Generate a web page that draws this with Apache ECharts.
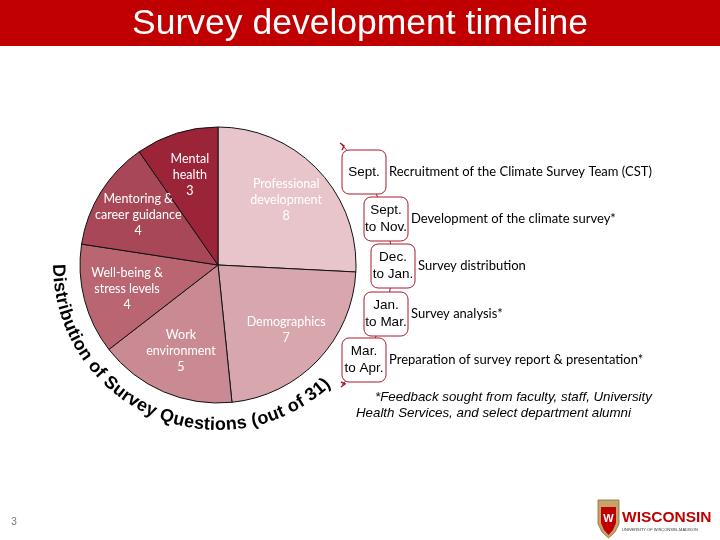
<!DOCTYPE html>
<html>
<head>
<meta charset="utf-8">
<script src="https://cdn.jsdelivr.net/npm/echarts@6/dist/echarts.min.js"></script>
<style>
  html, body { margin: 0; padding: 0; background: #fff; }
  #chart-container { width: 720px; height: 540px; }
</style>
</head>
<body>
<div id="chart-container"></div>
<script>
// --- data ---
const categories = ['Professional\ndevelopment', 'Demographics', 'Work\nenvironment', 'Well-being &\nstress levels', 'Mentoring &\ncareer guidance', 'Mental\nhealth'];
const questionCounts = [8, 7, 5, 4, 4, 3];
const sliceColors = ['#e8c5ca', '#d8a6ad', '#c98a93', '#b96672', '#a84758', '#9b2438'];

const periods = ['Sept.', 'Sept.\nto Nov.', 'Dec.\nto Jan.', 'Jan.\nto Mar.', 'Mar.\nto Apr.'];
const steps = [
    'Recruitment of the Climate Survey Team (CST)',
    'Development of the climate survey*',
    'Survey distribution',
    'Survey analysis*',
    'Preparation of survey report & presentation*'
];

const titleText = 'Survey development timeline';
const arcTitle = 'Distribution of Survey Questions (out of 31)';
const footnote = '*Feedback sought from faculty, staff, University\nHealth Services, and select department alumni';

var myChart = echarts.init(document.getElementById('chart-container'));

const pieCenter = [218, 265];
const pieRadius = 138;
const red = '#c00000';
const boxRed = '#a8182c';

let graphics = [];

// title bar
graphics.push({ type: 'rect', shape: { x: 0, y: 0, width: 720, height: 46 }, style: { fill: red }, z: 1 });
graphics.push({
    type: 'text', x: 360, y: 24, z: 2,
    style: { text: titleText, fill: '#fff', font: '35.5px "Liberation Sans", Arial, sans-serif', align: 'center', verticalAlign: 'middle' }
});

// curved label around the pie
(function () {
    const font = 'bold 18px "Liberation Sans", Arial, sans-serif';
    const ctx = document.createElement('canvas').getContext('2d');
    ctx.font = font;
    const chars = arcTitle.split('');
    const widths = chars.map(c => ctx.measureText(c).width);
    const total = widths.reduce((a, b) => a + b, 0);
    const r = 160;
    const mid = 113.5 * Math.PI / 180;
    const start = mid + total / (2 * r);
    let acc = 0;
    chars.forEach((c, i) => {
        const th = start - (acc + widths[i] / 2) / r;
        acc += widths[i];
        graphics.push({
            type: 'text',
            x: pieCenter[0] + r * Math.cos(th),
            y: pieCenter[1] + r * Math.sin(th),
            rotation: Math.PI / 2 - th,
            style: { text: c, font: font, fill: '#000', align: 'center', verticalAlign: 'middle' }
        });
    });
})();

// timeline connector arc
graphics.push({
    type: 'arc', z: 1,
    shape: { cx: 223, cy: 265, r: 169, startAngle: -0.79, endAngle: 0.79, clockwise: true },
    style: { stroke: boxRed, lineWidth: 1, fill: null }
});
graphics.push({ type: 'polyline', z: 1, shape: { points: [[340, 143], [344, 146], [342, 150]] }, style: { stroke: boxRed, lineWidth: 1.5, fill: null } });
graphics.push({ type: 'polyline', z: 1, shape: { points: [[341, 382], [345, 384], [341, 387]] }, style: { stroke: boxRed, lineWidth: 1.5, fill: null } });

// timeline boxes
const boxX = [342, 364, 371, 364, 342];
const boxY = [150, 197, 244, 292, 338];
periods.forEach((p, i) => {
    graphics.push({
        type: 'rect', z: 3,
        shape: { x: boxX[i], y: boxY[i], width: 44, height: 44, r: 7 },
        style: { fill: '#fff', stroke: boxRed, lineWidth: 1 }
    });
    graphics.push({
        type: 'text', z: 4, x: boxX[i] + 22, y: boxY[i] + 22,
        style: { text: p, font: '13.5px "Liberation Sans", Arial, sans-serif', lineHeight: 17, fill: '#000', align: 'center', verticalAlign: 'middle' }
    });
    graphics.push({
        type: 'text', z: 4, x: boxX[i] + 47, y: boxY[i] + 22,
        style: { text: steps[i], font: '13px Lato, sans-serif', fill: '#000', align: 'left', verticalAlign: 'middle' }
    });
});

// footnote
graphics.push({
    type: 'text', x: 375, y: 397,
    style: { text: footnote.split('\n')[0], font: 'italic 13.3px "Liberation Sans", Arial, sans-serif', fill: '#000', verticalAlign: 'middle' }
});
graphics.push({
    type: 'text', x: 356, y: 413,
    style: { text: footnote.split('\n')[1], font: 'italic 13.3px "Liberation Sans", Arial, sans-serif', fill: '#000', verticalAlign: 'middle' }
});

// page number
graphics.push({ type: 'text', x: 14, y: 522, style: { text: '3', font: '10px "Liberation Sans", Arial', fill: '#777', align: 'center', verticalAlign: 'middle' } });

// logo
graphics.push({
    type: 'polygon', z: 2,
    shape: { points: [[598, 500], [619, 500], [619, 524], [615, 532], [608.5, 538], [602, 532], [598, 524]] },
    style: { fill: '#c5a46a', stroke: '#8a6d3b', lineWidth: 0.8 }
});
graphics.push({
    type: 'polygon', z: 3,
    shape: { points: [[601, 507], [616, 507], [616, 523], [613, 530], [608.5, 535], [604, 530], [601, 523]] },
    style: { fill: red }
});
graphics.push({ type: 'text', z: 4, x: 608.5, y: 519, style: { text: 'W', font: 'bold 11px "Liberation Sans"', fill: '#fff', align: 'center', verticalAlign: 'middle' } });
graphics.push({ type: 'text', x: 622, y: 518, style: { text: 'WISCONSIN', font: 'bold 15.5px "Liberation Sans Narrow", "Liberation Sans"', fill: red, verticalAlign: 'middle' } });
graphics.push({ type: 'text', x: 622, y: 530, style: { text: 'UNIVERSITY OF WISCONSIN–MADISON', font: '4px "Liberation Sans"', fill: '#333', verticalAlign: 'middle' } });

const pieData = categories.map((c, i) => ({ name: c, value: questionCounts[i], itemStyle: { color: sliceColors[i] } }));

const option = {
    animation: false,
    graphic: graphics,
    series: [
        {
            type: 'pie',
            center: pieCenter,
            radius: [0, pieRadius],
            startAngle: 90,
            clockwise: true,
            data: pieData,
            label: { show: false },
            labelLine: { show: false },
            itemStyle: { borderColor: '#111', borderWidth: 1 },
            emphasis: { disabled: true }
        },
        {
            // transparent ring only used to place labels further out
            type: 'pie',
            center: pieCenter,
            radius: [44, pieRadius],
            startAngle: 90,
            clockwise: true,
            silent: true,
            avoidLabelOverlap: false,
            data: pieData.map(d => ({ name: d.name, value: d.value })),
            itemStyle: { color: 'rgba(0,0,0,0)' },
            label: {
                show: true, position: 'inside',
                formatter: p => p.name + '\n' + p.value,
                color: '#fff', fontFamily: 'Lato, sans-serif', fontSize: 12.5, lineHeight: 16
            },
            labelLayout: { hideOverlap: false },
            labelLine: { show: false },
            emphasis: { disabled: true }
        }
    ]
};

myChart.setOption(option);

window.addEventListener('resize', function () {
    myChart.resize();
});
</script>
</body>
</html>
